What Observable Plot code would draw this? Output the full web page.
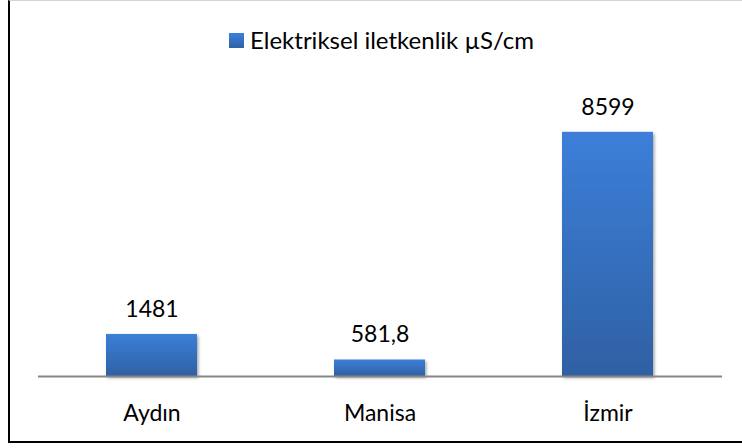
<!DOCTYPE html>
<html>
<head>
<meta charset="utf-8">
<script src="https://cdn.jsdelivr.net/npm/d3@7"></script>
<script src="https://cdn.jsdelivr.net/npm/@observablehq/plot@0.6"></script>
<style>
  body { margin: 0; background: #fff; }
  #wrap { position: relative; width: 742px; height: 448px; overflow: hidden; font-family: Lato, "Open Sans", sans-serif; }
  #frame { position: absolute; left: 8px; top: 0; width: 800px; height: 443px; box-sizing: border-box;
           border-left: 2px solid #000; border-bottom: 2px solid #000; border-top: 1px solid #d4d4d4; }
  #chart { position: absolute; left: 0; top: 0; }
  #legend { position: absolute; left: 229px; top: 26px; height: 26px; display: flex; align-items: center;
            font-size: 24px; color: #000; white-space: nowrap; }
  #legend .sw { display: inline-block; width: 15px; height: 15px; margin-right: 6px; margin-top: 2px;
                background: linear-gradient(#3c7fd9, #2f62a6); }
</style>
</head>
<body>
<div id="wrap">
  <div id="frame"></div>
  <div id="chart"></div>
  <div id="legend"><span class="sw"></span><span id="legendText"></span></div>
</div>
<script>
const cities = ["Aydın", "Manisa", "İzmir"];
const values = [1481, 581.8, 8599];
const valueLabels = ["1481", "581,8", "8599"];
const seriesName = "Elektriksel iletkenlik µS/cm";

const data = cities.map((c, i) => ({city: c, value: values[i], label: valueLabels[i]}));

document.getElementById("legendText").textContent = seriesName;

const chart = Plot.plot({
  width: 742,
  height: 448,
  marginLeft: 38,
  marginRight: 20,
  marginTop: 92,
  marginBottom: 72,
  style: {fontFamily: "Lato, 'Open Sans', sans-serif", fontSize: "23px", color: "#000", background: "transparent"},
  x: {domain: cities, paddingInner: 0.6, paddingOuter: 0.3, tickSize: 0, tickPadding: 28, label: null},
  y: {domain: [0, 10000], axis: null},
  marks: [
    Plot.barY(data, {x: "city", y: "value", fill: "url(#barGrad)"}),
    Plot.ruleY([0], {stroke: "#868686", strokeWidth: 2}),
    Plot.text(data, {x: "city", y: "value", text: "label", dy: -25, fontSize: 23, fill: "#000"})
  ]
});

const svg = d3.select(chart);
svg.insert("defs", ":first-child").html(`
  <linearGradient id="barGrad" x1="0" y1="0" x2="0" y2="1">
    <stop offset="0%" stop-color="#3c7fd9"/>
    <stop offset="100%" stop-color="#2f60a3"/>
  </linearGradient>
  <filter id="shadow" x="-10%" y="-10%" width="130%" height="130%">
    <feDropShadow dx="1.5" dy="2" stdDeviation="1.5" flood-color="#000" flood-opacity="0.35"/>
  </filter>`);
svg.selectAll("g[aria-label='bar'] rect").attr("filter", "url(#shadow)");

document.getElementById("chart").appendChild(chart);
</script>
</body>
</html>
